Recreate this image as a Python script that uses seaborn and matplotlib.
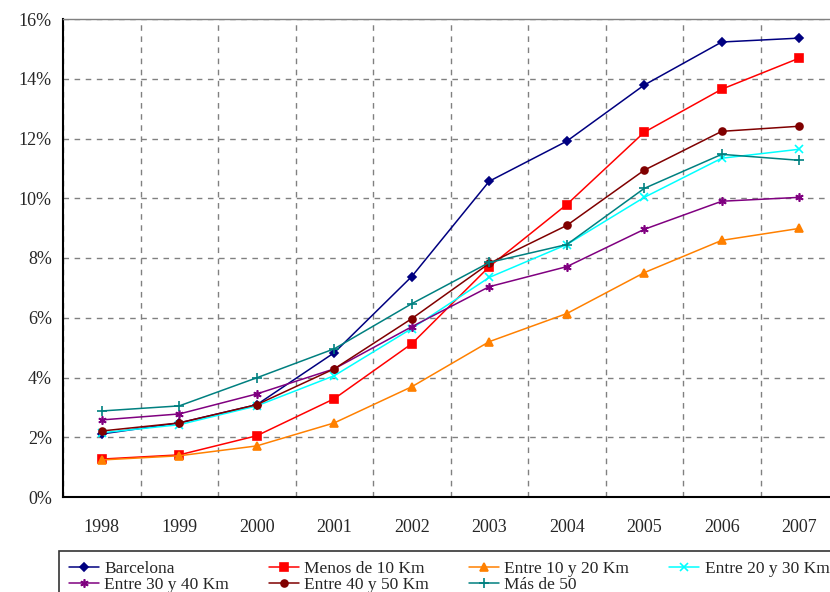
import matplotlib
matplotlib.use("Agg")
import matplotlib.pyplot as plt
import seaborn as sns
import numpy as np
import pandas as pd
from matplotlib.ticker import FixedLocator, FuncFormatter

# Values (percent)
years = [1998, 1999, 2000, 2001, 2002, 2003, 2004, 2005, 2006, 2007]
barcelona = [2.11, 2.48, 3.09, 4.83, 7.38, 10.57, 11.91, 13.79, 15.23, 15.36]
menos_10 = [1.27, 1.41, 2.05, 3.29, 5.13, 7.71, 9.79, 12.21, 13.65, 14.69]
entre_10_20 = [1.24, 1.38, 1.71, 2.48, 3.69, 5.20, 6.14, 7.51, 8.59, 8.99]
entre_20_30 = [2.15, 2.42, 3.05, 4.06, 5.64, 7.35, 8.45, 10.03, 11.34, 11.64]
entre_30_40 = [2.58, 2.78, 3.45, 4.29, 5.70, 7.04, 7.71, 8.96, 9.90, 10.03]
entre_40_50 = [2.21, 2.48, 3.09, 4.29, 5.97, 7.82, 9.09, 10.94, 12.24, 12.41]
mas_50 = [2.88, 3.05, 3.99, 4.96, 6.47, 7.85, 8.45, 10.33, 11.47, 11.27]

series_names = ["Barcelona", "Menos de 10 Km", "Entre 10 y 20 Km", "Entre 20 y 30 Km",
                "Entre 30 y 40 Km", "Entre 40 y 50 Km", "Más de 50"]
series_values = [barcelona, menos_10, entre_10_20, entre_20_30,
                 entre_30_40, entre_40_50, mas_50]
colors = ["#000080", "#FF0000", "#FF8000", "#00FFFF", "#800080", "#800000", "#008080"]
markers = ["D", "s", "^", "x", (6, 2, 0), "o", "+"]
msizes = [4.5, 5.5, 5.5, 5.5, 6, 5, 6.5]

df = pd.DataFrame({
    "year": np.tile(years, len(series_names)),
    "value": np.concatenate(series_values),
    "serie": np.repeat(series_names, len(years)),
})

sns.set_style("white")
plt.rcParams["font.family"] = ["Liberation Serif", "DejaVu Serif"]

fig = plt.figure(figsize=(8.3, 5.92), dpi=100)
ax = fig.add_axes([63 / 830, 95 / 592, 775 / 830, 478 / 592])

for name, col, mk, ms in zip(series_names, colors, markers, msizes):
    sub = df[df["serie"] == name]
    sns.lineplot(data=sub, x="year", y="value", ax=ax, color=col, marker=mk,
                 markersize=ms, markeredgecolor=col, markeredgewidth=1.2,
                 linewidth=1.1, label=name, legend=False)

ax.set_xlim(years[0] - 0.5, years[-1] + 0.5)
ax.set_ylim(0, 16)

# category axis: tick marks between years, labels at centers
bounds = [y + 0.5 for y in years[:-1]]
ax.xaxis.set_major_locator(FixedLocator([years[0] - 0.5] + bounds))
ax.xaxis.set_major_formatter(FuncFormatter(lambda v, p: ""))
ax.xaxis.set_minor_locator(FixedLocator(years))
ax.xaxis.set_minor_formatter(FuncFormatter(lambda v, p: f"{int(round(v))}"))
ax.tick_params(axis="x", which="major", length=5, width=1.2, color="black", direction="out")
ax.tick_params(axis="x", which="minor", length=0, pad=16, labelsize=13)

ax.set_yticks(np.arange(0, 17, 2))
ax.yaxis.set_major_formatter(FuncFormatter(lambda v, p: f"{int(v)}%"))
ax.tick_params(axis="y", length=5, width=1.2, color="black", direction="out", labelsize=13, pad=3)

ax.grid(True, which="major", axis="both", color="#808080", linestyle=(0, (4, 4)), linewidth=1)
ax.set_axisbelow(True)

ax.spines["left"].set_color("black")
ax.spines["left"].set_linewidth(1.5)
ax.spines["bottom"].set_color("black")
ax.spines["bottom"].set_linewidth(1.5)
ax.spines["top"].set_color("#808080")
ax.spines["top"].set_linewidth(1)
ax.spines["right"].set_visible(False)
ax.set_xlabel("")
ax.set_ylabel("")

handles, labels = ax.get_legend_handles_labels()
order = [0, 4, 1, 5, 2, 6, 3]
leg = fig.legend([handles[i] for i in order], [labels[i] for i in order],
                 loc="upper left", mode="expand",
                 bbox_to_anchor=(59 / 830, 1 - 551 / 592, 780 / 830, 0),
                 ncol=4, fontsize=12.5, frameon=True, fancybox=False,
                 handlelength=1.75, handletextpad=0.3, columnspacing=2.0,
                 labelspacing=0.0, borderpad=0.55, borderaxespad=0)
leg.get_frame().set_edgecolor("black")
leg.get_frame().set_linewidth(1.2)

fig.savefig("out.png", dpi=100)
